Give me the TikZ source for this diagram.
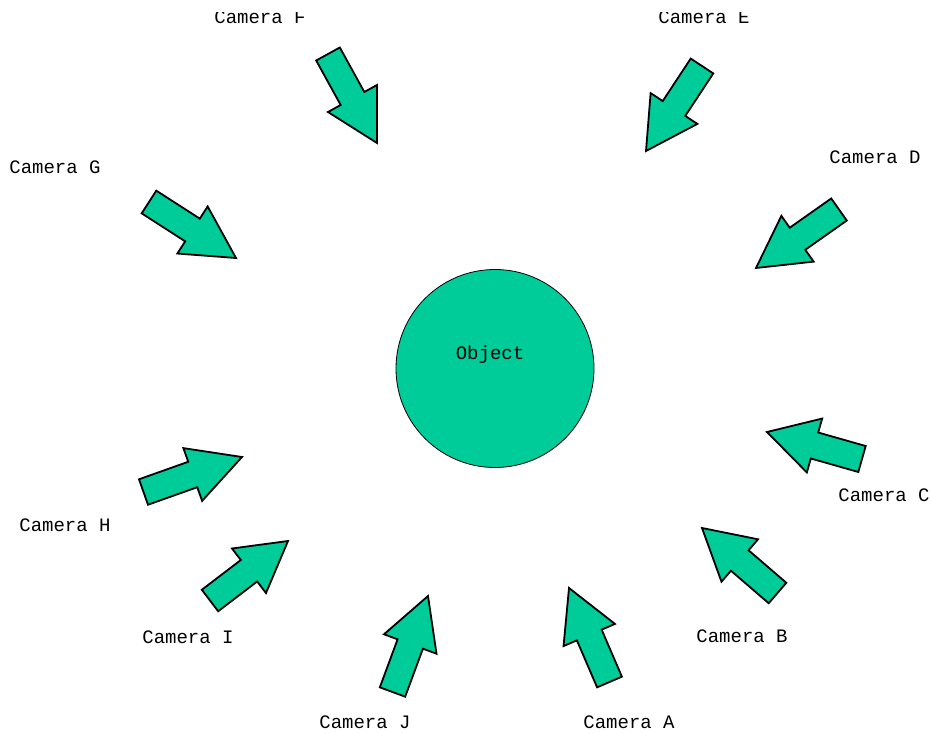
\documentclass[tikz,border=0pt]{standalone}
\usepackage{fontspec}
\setmonofont{Liberation Mono}
\usetikzlibrary{calc}
\definecolor{objgreen}{RGB}{0,204,153}
\tikzset{
    camarrow/.style={fill=objgreen, draw=black, line width=1.8pt, line join=miter},
    camlabel/.style={font=\ttfamily\fontsize{19}{19}\selectfont, inner sep=0pt},
}
\begin{document}
\begin{tikzpicture}[x=1pt, y=-1pt]
    \useasboundingbox (0,0) rectangle (931,733);
    \clip (0,13) rectangle (931,733);

    % Block arrow
        % variables
        \def\shaftHalf{13.5pt}
        \def\headHalf{28pt}
        \def\camArrow#1#2{%
            \coordinate (mid) at ($(#1)!0.5!(#2)$);
            \draw[camarrow] ($(#1)!\shaftHalf!90:(#2)$) -- ($(mid)!\shaftHalf!90:(#2)$)
                -- ($(mid)!\headHalf!90:(#2)$) -- (#2) -- ($(mid)!\headHalf!-90:(#2)$)
                -- ($(mid)!\shaftHalf!-90:(#2)$) -- ($(#1)!\shaftHalf!-90:(#2)$) -- cycle;
        }

    % Object
    \node[circle, draw=black, line width=0.8pt, fill=objgreen, minimum size=198pt] (obj) at (495,368.5) {};
    \node[camlabel] (objLabel) at (490,355) {Object};

    % Arrow points
    \coordinate (tailA) at (609.5,682);  \coordinate (tipA) at (569,588);
    \coordinate (tailB) at (777.5,593);  \coordinate (tipB) at (702,528);
    \coordinate (tailC) at (862,459);    \coordinate (tipC) at (767,432);
    \coordinate (tailD) at (839,209.5);  \coordinate (tipD) at (756,268);
    \coordinate (tailE) at (702,66);     \coordinate (tipE) at (646,151);
    \coordinate (tailF) at (328,54);     \coordinate (tipF) at (377,143);
    \coordinate (tailG) at (149,202);    \coordinate (tipG) at (236,258);
    \coordinate (tailH) at (143.5,492);  \coordinate (tipH) at (242,457);
    \coordinate (tailI) at (210,600.5);  \coordinate (tipI) at (288,541);
    \coordinate (tailJ) at (392.5,692);  \coordinate (tipJ) at (428,596);

    % Draw arrows
    \camArrow{tailA}{tipA}
    \camArrow{tailB}{tipB}
    \camArrow{tailC}{tipC}
    \camArrow{tailD}{tipD}
    \camArrow{tailE}{tipE}
    \camArrow{tailF}{tipF}
    \camArrow{tailG}{tipG}
    \camArrow{tailH}{tipH}
    \camArrow{tailI}{tipI}
    \camArrow{tailJ}{tipJ}

    % Camera labels
    \node[camlabel] (camA) at (629,722) {Camera A};
    \node[camlabel] (camB) at (742,636) {Camera B};
    \node[camlabel] (camC) at (884,495) {Camera C};
    \node[camlabel] (camD) at (875,157) {Camera D};
    \node[camlabel] (camE) at (704,17) {Camera E};
    \node[camlabel] (camF) at (260,17) {Camera F};
    \node[camlabel] (camG) at (55,167) {Camera G};
    \node[camlabel] (camH) at (65,525) {Camera H};
    \node[camlabel] (camI) at (188,637) {Camera I};
    \node[camlabel] (camJ) at (365,722) {Camera J};
\end{tikzpicture}
\end{document}
